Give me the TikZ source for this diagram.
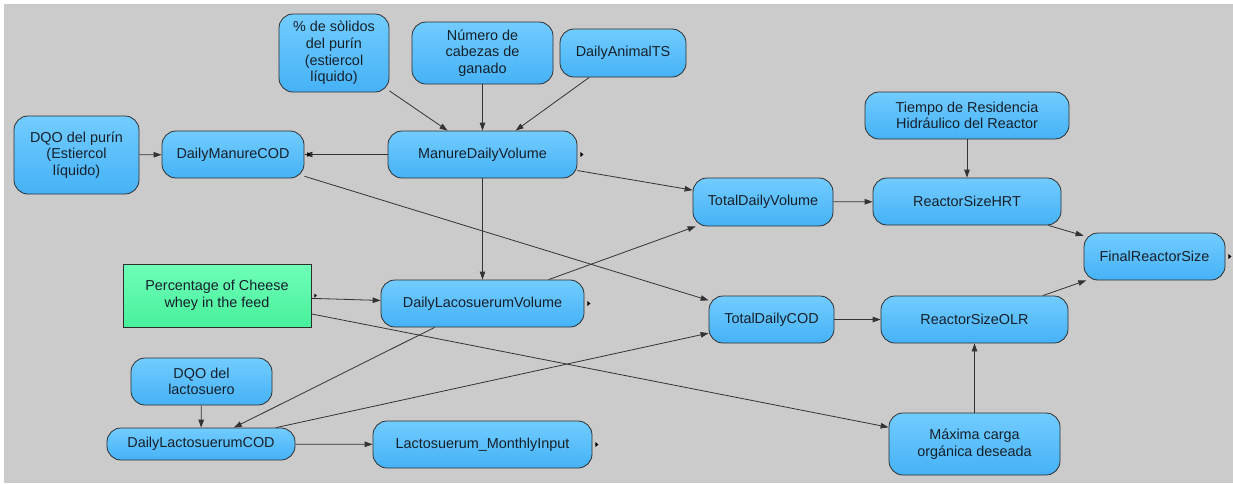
\documentclass[tikz,border=0pt]{standalone}
\usepackage{fontspec}
\setmainfont{Liberation Sans}
\usetikzlibrary{arrows.meta}
\definecolor{bgc}{HTML}{CBCBCB}
\definecolor{blueTop}{HTML}{72CCFF}
\definecolor{blueBot}{HTML}{45B2F6}
\definecolor{greenTop}{HTML}{6EFFB8}
\definecolor{greenBot}{HTML}{48F09C}
\definecolor{edgec}{HTML}{2E2E2E}
\definecolor{linec}{HTML}{333333}
\definecolor{txtc}{HTML}{16202A}
\tikzset{
  box/.style={draw=edgec, line width=0.8pt, rounded corners=14pt,
    top color=blueTop, bottom color=blueBot, text=txtc,
    font=\fontsize{14.4}{16.6}\selectfont, align=center, inner sep=0pt},
  gbox/.style={draw=edgec, line width=0.8pt,
    top color=greenTop, bottom color=greenBot, text=txtc,
    font=\fontsize{14.4}{16.6}\selectfont, align=center, inner sep=0pt},
  conn/.style={draw=linec, line width=0.8pt, -{Triangle[length=8pt,width=5.5pt]}},
  mrk/.style={fill=black}
}
\begin{document}
\begin{tikzpicture}[x=1pt,y=-1pt]
\useasboundingbox (0,0) rectangle (1233,483);
\fill[bgc] (4,4) rectangle (1233,483);

\node[box, minimum width=110, minimum height=78] (solidos) at (334,53) {\% de sòlidos\\del purín\\(estiercol\\líquido)};
\node[box, minimum width=141, minimum height=62] (numero) at (482.5,53) {Número de\\cabezas de\\ganado};
\node[box, minimum width=126, minimum height=48] (animalTS) at (623,53) {DailyAnimalTS};
\node[box, minimum width=125, minimum height=78] (dqoPurin) at (76.5,155) {DQO del purín\\(Estiercol\\líquido)};
\node[box, minimum width=142, minimum height=47] (manureCOD) at (233,154.5) {DailyManureCOD};
\node[box, minimum width=189, minimum height=47] (manureVol) at (482.5,154.5) {ManureDailyVolume};
\node[box, minimum width=140, minimum height=48] (totalVol) at (763,202) {TotalDailyVolume};
\node[box, minimum width=204, minimum height=47] (tiempo) at (967,115.5) {Tiempo de Residencia\\Hidráulico del Reactor};
\node[box, minimum width=188, minimum height=47] (hrt) at (967,201.5) {ReactorSizeHRT};
\node[box, minimum width=141, minimum height=47] (final) at (1154.5,256.5) {FinalReactorSize};
\node[gbox, minimum width=188, minimum height=63] (cheese) at (217,295.5) {Percentage of Cheese\\whey in the feed};
\node[box, minimum width=203, minimum height=47] (lacVol) at (482.5,303.5) {DailyLacosuerumVolume};
\node[box, minimum width=141, minimum height=47] (dqoLac) at (201.5,381.5) {DQO del\\lactosuero};
\node[box, minimum width=188, minimum height=32] (lacCOD) at (201,444) {DailyLactosuerumCOD};
\node[box, minimum width=219, minimum height=47] (monthly) at (482.5,444.5) {Lactosuerum\_MonthlyInput};
\node[box, minimum width=125, minimum height=47] (totalCOD) at (771.5,319.5) {TotalDailyCOD};
\node[box, minimum width=187, minimum height=47] (olr) at (974.5,319.5) {ReactorSizeOLR};
\node[box, minimum width=171, minimum height=62] (maxima) at (974.5,444) {Máxima carga\\orgánica deseada};

\draw[conn] (dqoPurin) -- (manureCOD);
\draw[conn] (manureVol) -- (manureCOD);
\draw[conn] (solidos) -- (manureVol);
\draw[conn] (numero) -- (manureVol);
\draw[conn] (animalTS) -- (manureVol);
\draw[conn] (manureVol) -- (totalVol);
\draw[conn] (manureVol) -- (lacVol);
\draw[conn] (manureCOD) -- (totalCOD);
\draw[conn] (lacVol) -- (totalVol);
\draw[conn] (cheese) -- (lacVol);
\draw[conn] (cheese) -- (maxima);
\draw[conn] (lacVol) -- (lacCOD);
\draw[conn] (dqoLac) -- (lacCOD);
\draw[conn] (lacCOD) -- (totalCOD);
\draw[conn] (lacCOD) -- (monthly);
\draw[conn] (totalVol) -- (hrt);
\draw[conn] (tiempo) -- (hrt);
\draw[conn] (hrt) -- (final);
\draw[conn] (totalCOD) -- (olr);
\draw[conn] (maxima) -- (olr);
\draw[conn] (olr) -- (final);

\foreach \n in {manureVol,lacVol,monthly,final,manureCOD}{
  \fill[mrk] (\n.east) ++(3,-2.5) -- ++(3,2.5) -- ++(-3,2.5) -- cycle;
}
\fill[mrk] (cheese.north east) ++(3,30) -- ++(2.5,2) -- ++(-2.5,2) -- cycle;
\end{tikzpicture}
\end{document}
